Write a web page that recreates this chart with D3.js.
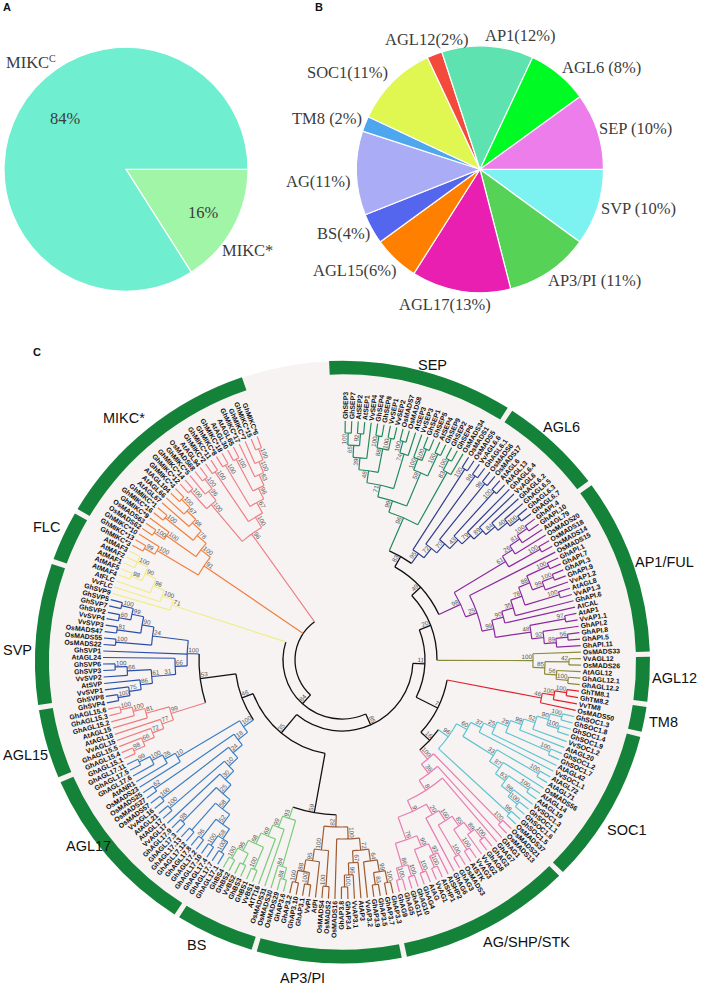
<!DOCTYPE html>
<html lang="en">
<head>
<meta charset="UTF-8">
<title>MADS-box pies and tree</title>
<script src="https://cdn.jsdelivr.net/npm/d3@7"></script>
<style>
    html, body { margin: 0; padding: 0; background: #fff; }
    svg { display: block; }
    text { font-family: "Liberation Sans", Arial, sans-serif; }
    .pie-label { font-family: "Liberation Serif", serif; font-size: 16.5px; fill: #3c3c3c; }
    .panel { font-size: 11px; font-weight: bold; fill: #111; }
    .ring-label { font-size: 14.5px; fill: #111; }
    .leaf { font-size: 6.9px; font-weight: bold; fill: #111; }
    .boot { font-size: 6.3px; fill: #555; }
</style>
</head>
<body>
<svg id="chart" width="701" height="986"></svg>
<script>
// Panel A
const pieAValues = [16, 84];
const pieAColors = ["#a0f5a6", "#6fefcf"];

// Panel B, clockwise from 3 o'clock
const pieBNames = ["SVP", "AP3/PI", "AGL17", "AGL15", "BS", "AG", "TM8", "SOC1", "AGL12", "AP1", "AGL6", "SEP"];
const pieBValues = [10, 11, 13, 6, 4, 11, 2, 11, 2, 12, 8, 10];
const pieBColors = ["#7cf3f0", "#56d257", "#e81fb0", "#ff8000", "#5566ee", "#aaadf5", "#4da6ee", "#e0f752", "#f44a3c", "#5ee3b0", "#00fb24", "#ec7dea"];
const pieBLabels = ["SVP (10%)", "AP3/PI (11%)", "AGL17(13%)", "AGL15(6%)", "BS(4%)", "AG(11%)", "TM8 (2%)", "SOC1(11%)", "AGL12(2%)", "AP1(12%)", "AGL6 (8%)", "SEP (10%)"];

// Panel C, one newick string per clade, node labels are bootstrap values
const sepTree = "(((((((GhSEP3,GhSEP7)100,(AtSEP2,AtSEP1)92)65,VvSEP4)39,((GhSEP4,GhSEP8)100,(VvSEP1,VvSEP2)100)88)48,((OsMADS7,OsMADS8)100,AtSEP3)74)71,((VvSEP3,(GhSEP1,GhSEP5)100)100,(AtSEP4,GhSEP9)100)59)99,((GhSEP2,GhSEP6)100,OsMADS34)83)96";
const agl6Tree = "((OsMADS1,OsMADS5)100,((VvAGL6.6,GhAGL6.1)98,((OsMADS6,OsMADS17)98,((AtAGL6,AtAGL13)100,(GhAGL6.4,(VvAGL6,(GhAGL6.2,(GhAGL6.5,(GhAGL6.3,GhAGL6.7)100)40)84)89)79)43)70)72)95";
const ap1Tree = "(((((GhAPI.4,GhAPI.10)100,AtAGL79)81,OsMADS20)26,(OsMADS18,OsMADS14)100)61,(OsMADS15,((((((GhAPI.1,GhAPI.7)100,((GhAPI.3,GhAPI.9)100,VvAP1.2)99)88,(AtAGL8,VvAP1.3)100)78,GhAPI.6)35,AtCAL)90,((AtAP1,VvAP1.1)97,(GhAPI.2,((GhAPI.8,GhAPI.5)56,GhAPI.11)89)92)48)99)25)98";
const agl12Tree = "(OsMADS33,((VvAGL12,OsMADS26)42,(AtAGL12,(GhAGL12.1,GhAGL12.2)100)56)85)100";
const tm8Tree = "(((GhTM8.1,GhTM8.2)100,VvTM8)100,OsMADS50)46";
const soc1Tree = "(((((((((GhSOC1.3,GhSOC1.8)100,(GhSOC1.4,GhSOC1.9)100)90,VvSOC1.2)52,AtAGL20)99,(GhSOC1.2,GhSOC1.7)100)29,AtAGL42)25,VvSOC1.1)37,((AtAGL72,AtAGL71)100,(OsMADS56,((AtAGL14,AtAGL19)100,(VvSOC1.3,(GhSOC1.1,GhSOC1.6)100)98)83)87)33)60,(GhSOC1.5,OsMADS37)98)96";
const agTree = "((OsMADS21,OsMADS13)100,(GhAG1,(GhAG7,((((((GhAG2,GhAG8)100,VvAG2)89,(VvAG3,AtSTK)100)85,(OsMADS3,GhAG3)100)100,GhAG6)20,(((AtSHP2,(AtSHP1,VvAG1)100)93,(AtAG,GhAG4)100)90,((GhAG10,GhAG11)100,(GhAG5,GhAG9)100)86)76)9)8)36)100";
const ap3Tree = "((((((GhAP3.3,GhAP3.7)100,(GhAP3.5,GhAP3.9)83)99,VvAP3.2)64,(AtAP3,(VvAP3.1,(GhAP3.4,GhAP3.8)100)96)67)72,OsMADS16)100,((OsMADS2,OsMADS4)100,(AtPI,((VvPI,GhAP3.1)100,(GhAP3.10,GhAP3.2)100)88)95)100)82";
const bsTree = "(((GhAP3.6,OsMADS29)88,OsMADS30)84,(OsMADS31,(AtTT16,((VvBS1,GhBS1)100,((GhBS3,VvBS2),(GhBS2,GhBS4)100)95)68)69)99)93";
const agl17Tree = "((((((((((GhAGL17.1,GhAGL17.7)100,(GhAGL17.4,GhAGL17.10)100)58,(GhAGL17.2,GhAGL17.8)96)52,(GhAGL17.12,GhAGL17.13))58,(GhAGL17.3,GhAGL17.9)98)25,VvAGL17)30,(AtAGL17,AtAGL21)100)10,(VvAGL16,OsMADS57)100)24,(OsMADS27,OsMADS25)62)18,(OsMADS23,(AtANR1,(GhAGL17.6,(GhAGL17.5,GhAGL17.11)99)100)26)10)100";
const agl15Tree = "(((((GhAGL15.1,GhAGL15.4)98,GhAGL15.5)66,VvAGL15)72,AtAGL18)77,(AtAGL15,(GhAGL15.2,(GhAGL15.3,GhAGL15.6)100)100)81)99";
const svpTree = "(((((((GhSVP4,GhSVP8)100,VvSVP1)75,AtSVP)86,(VvSVP2,(GhSVP3,GhSVP6)100)66)61)31,AtAGL24)66,GhSVP1,((OsMADS22,OsMADS55)100,((OsMADS47,VvSVP3)81,((VvSVP4,GhSVP2)60,(GhSVP7,GhSVP5)100)99)90)24)100";
const flcTree = "(GhSVP9,(VvFLC,(AtFLC,((AtMAF4,AtMAF5)98,(AtMAF1,AtMAF2,AtMAF3)100)90)96)100)71";
const orangeTree = "(((GhMIKC*3,GhMIKC*13)99,GhMIKC*10)100,(((OsMADS62,OsMADS63)100,GhMIKC*9)100,((GhMIKC*16,GhMIKC*1)100,(AtAGL67,(AtAGL66,(AtAGL104,GhMIKC*4)100)67)98)78)100)91";
const pinkTree = "(((GhMIKC*12,GhMIKC*14)100,(GhMIKC*5,(OsMADS68,AtAGL94)100)96)100,((GhMIKC*2,GhMIKC*11)100,((GhMIKC*8,GhMIKC*18)100,((AtAGL30,AtAGL65)100,(GhMIKC*17,(GhMIKC*7,(GhMIKC*15,GhMIKC*6)100)100)63)96)67)100)96";
const backbone = "(((((((SEP,AGL6)83,AP1)49,AGL12)20,(TM8,(SOC1,AG)16)7)11,((AP3,BS)59,(AGL17,(AGL15,SVP)53)46)35)85,FLC)84,ORANGE,PINK)";

const cladeKeys = ["SEP", "AGL6", "AP1", "AGL12", "TM8", "SOC1", "AG", "AP3", "BS", "AGL17", "AGL15", "SVP", "FLC", "ORANGE", "PINK"];
const cladeTrees = [sepTree, agl6Tree, ap1Tree, agl12Tree, tm8Tree, soc1Tree, agTree, ap3Tree, bsTree, agl17Tree, agl15Tree, svpTree, flcTree, orangeTree, pinkTree];
const cladeColors = ["#218a5b", "#2f3f8c", "#8b2a9f", "#8a8a3a", "#e0202a", "#5fc4d0", "#e87cb0", "#9c5b30", "#77cc77", "#3b7fc4", "#ee7d80", "#2a4fa8", "#f0ee8a", "#ee8040", "#ee8088"];

// Green ring, clockwise, end angle of each group in degrees from the top
const ringNames = ["SEP", "AGL6", "AP1/FUL", "AGL12", "TM8", "SOC1", "AG/SHP/STK", "AP3/PI", "BS", "AGL17", "AGL15", "SVP", "FLC", "MIKC*"];
const ringEnds = [33, 53.6, 88.5, 98.1, 103.9, 134.7, 168.4, 196.7, 212.6, 247, 261.3, 289.5, 300, 341.4];
const ringStart = -3;

const svg = d3.select("#chart");

// -------- pies
const rad = Math.PI / 180;
const pie = d3.pie().sort(null).value(d => d).startAngle(90 * rad).endAngle(450 * rad);

function drawPie(values, colors, cx, cy, radius) {
    const g = svg.append("g").attr("transform", `translate(${cx},${cy})`);
    g.selectAll("path")
        .data(pie(values))
        .join("path")
        .attr("d", d3.arc().innerRadius(0).outerRadius(radius))
        .attr("fill", (d, i) => colors[i])
        .attr("stroke", "#fff")
        .attr("stroke-width", 1.2);
}

drawPie(pieAValues, pieAColors, 126, 169.3, 122);
drawPie(pieBValues, pieBColors, 480, 169.3, 123.5);

// label spots for the pies, x then baseline, same order as pieBLabels
const pieBSpots = [[601, 214], [548, 286], [399, 310], [313, 276], [317, 239], [286, 187], [292, 124], [307, 78], [385, 45], [485, 40.5], [562, 73], [599, 134]];
svg.append("g").selectAll("text")
    .data(pieBLabels)
    .join("text")
    .attr("class", "pie-label")
    .attr("x", (d, i) => pieBSpots[i][0])
    .attr("y", (d, i) => pieBSpots[i][1])
    .text(d => d);

const mikcC = svg.append("text").attr("class", "pie-label").attr("x", 6).attr("y", 68).text("MIKC");
mikcC.append("tspan").attr("dy", -6).attr("font-size", 10).text("C");
svg.append("text").attr("class", "pie-label").attr("x", 222).attr("y", 256).text("MIKC*");
svg.append("text").attr("class", "pie-label").attr("x", 50).attr("y", 124).text("84%");
svg.append("text").attr("class", "pie-label").attr("x", 188).attr("y", 218).text("16%");

svg.append("text").attr("class", "panel").attr("x", 3).attr("y", 11).text("A");
svg.append("text").attr("class", "panel").attr("x", 315).attr("y", 11).text("B");
svg.append("text").attr("class", "panel").attr("x", 33).attr("y", 356).text("C");

// -------- tree
function parseNewick(str) {
    let i = 0;
    function node() {
        const n = {};
        if (str[i] === "(") {
            n.children = [];
            i++;
            n.children.push(node());
            while (str[i] === ",") {
                i++;
                n.children.push(node());
            }
            i++; // closing bracket
        }
        let label = "";
        while (i < str.length && !"(),".includes(str[i])) label += str[i++];
        if (n.children) n.boot = label;
        else n.name = label;
        return n;
    }
    return node();
}

// swap the clade keys in the backbone for their own trees
function graft(n) {
    if (n.children) {
        n.children = n.children.map(graft);
        return n;
    }
    const k = cladeKeys.indexOf(n.name);
    if (k < 0) return n;
    const sub = parseNewick(cladeTrees[k]);
    sub.clade = cladeColors[k];
    return sub;
}

const rootData = graft(parseNewick(backbone));
const root = d3.hierarchy(rootData);
const leafSpan = 340;
d3.cluster().size([leafSpan, 192]).separation(() => 1)(root);

// clade colour runs down to the leaves
root.each(d => {
    d.color = d.data.clade || (d.parent ? d.parent.color : "#111");
});

const radius = d3.scaleLinear().domain([0, 192]).range([47, 239]);

const ringG = svg.append("g").attr("transform", "translate(342.5,662) scale(1,0.98)");
ringG.append("circle").attr("r", 307).attr("fill", "#f8f3f3");
const ringArc = d3.arc().innerRadius(293.5).outerRadius(307.5);
ringG.selectAll("path")
    .data(ringEnds)
    .join("path")
    .attr("d", (d, i) => ringArc({
        startAngle: ((i ? ringEnds[i - 1] : ringStart) + 0.5) * rad,
        endAngle: (d - 0.5) * rad
    }))
    .attr("fill", "#148238");

const ringSpots = [[418, 370], [543, 432], [635, 567], [652, 683], [649, 727], [607, 835], [483, 947], [280, 983], [187, 950], [66, 851], [3, 760], [3, 655], [33, 532], [103, 423]];
svg.append("g").selectAll("text")
    .data(ringNames)
    .join("text")
    .attr("class", "ring-label")
    .attr("x", (d, i) => ringSpots[i][0])
    .attr("y", (d, i) => ringSpots[i][1])
    .text(d => d);

const tree = svg.append("g").attr("transform", "translate(342,660)");

function polar(a, r) {
    return [r * Math.sin(a * rad), -r * Math.cos(a * rad)];
}

function branchPath(d) {
    const p = d3.path();
    const r = radius(d.y);
    if (d.parent) {
        const from = polar(d.x, radius(d.parent.y));
        const to = polar(d.x, r);
        p.moveTo(from[0], from[1]);
        p.lineTo(to[0], to[1]);
    }
    if (d.children) {
        const a0 = d.children[0].x;
        const a1 = d.children[d.children.length - 1].x;
        const s = polar(a0, r);
        p.moveTo(s[0], s[1]);
        p.arc(0, 0, r, (a0 - 90) * rad, (a1 - 90) * rad);
    }
    return p.toString();
}

tree.append("g")
    .attr("fill", "none")
    .selectAll("path")
    .data(root.descendants())
    .join("path")
    .attr("d", branchPath)
    .attr("stroke", d => d.color)
    .attr("stroke-width", d => d.color === "#111" ? 1.3 : 1.2);

function place(a, r) {
    return `rotate(${a - 90}) translate(${r},0)${a > 180 ? " rotate(180)" : ""}`;
}

tree.append("g").selectAll("text")
    .data(root.leaves())
    .join("text")
    .attr("class", "leaf")
    .attr("transform", d => place(d.x, radius(d.y) + 2))
    .attr("text-anchor", d => d.x > 180 ? "end" : "start")
    .attr("dy", "0.35em")
    .text(d => d.data.name);

tree.append("g").selectAll("text")
    .data(root.descendants().filter(d => d.data.boot))
    .join("text")
    .attr("class", "boot")
    .attr("transform", d => place(d.x, radius(d.y) - 1))
    .attr("text-anchor", d => d.x > 180 ? "start" : "end")
    .attr("dy", -1.5)
    .text(d => d.data.boot);
</script>
</body>
</html>
